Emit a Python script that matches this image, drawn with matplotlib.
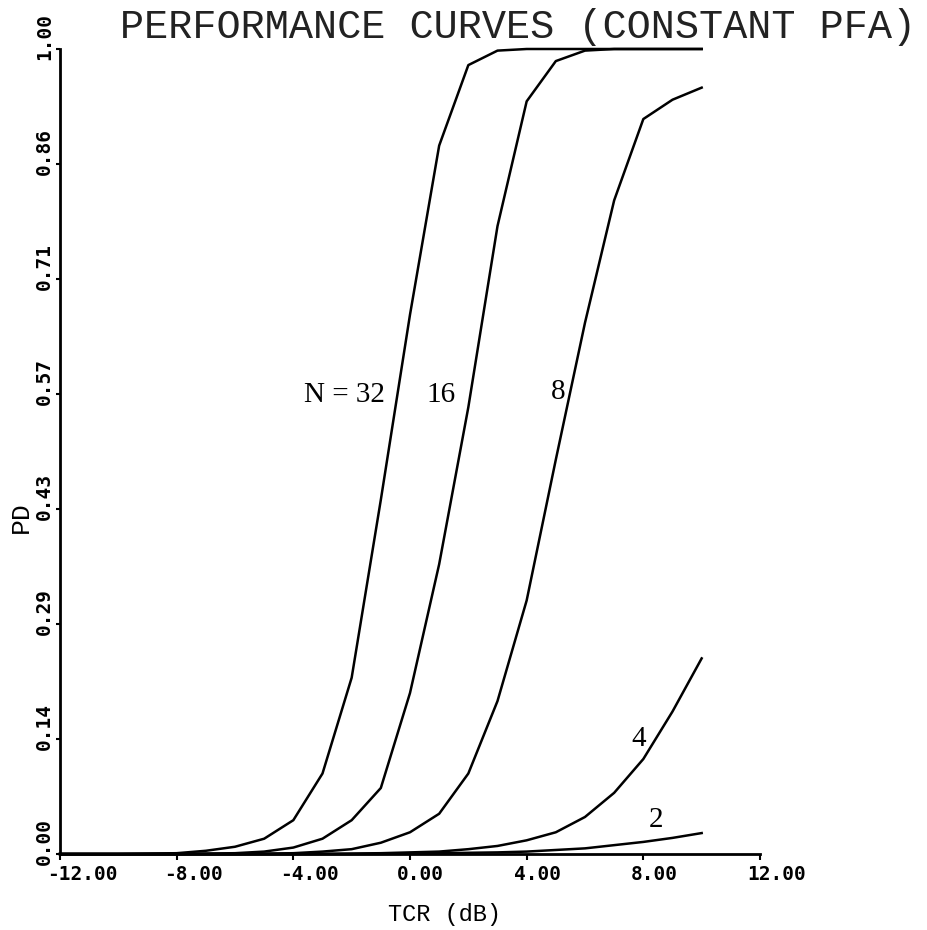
import matplotlib.pyplot as plt
from matplotlib.transforms import ScaledTranslation

# --- data (PD vs TCR, constant PFA) ---
tcr_db = [-12, -11, -10, -9, -8, -7, -6, -5, -4, -3, -2, -1,
          0, 1, 2, 3, 4, 5, 6, 7, 8, 9, 10]

pd_n32 = [0, 0, 0, 0.0005, 0.001, 0.004, 0.009, 0.019, 0.042, 0.10, 0.219, 0.44,
          0.67, 0.88, 0.98, 0.998, 1, 1, 1, 1, 1, 1, 1]
pd_n16 = [0, 0, 0, 0, 0, 0.0005, 0.001, 0.003, 0.008, 0.019, 0.042, 0.082,
          0.20, 0.36, 0.555, 0.78, 0.935, 0.985, 0.998, 1, 1, 1, 1]
pd_n8 = [0, 0, 0, 0, 0, 0, 0, 0.0005, 0.001, 0.003, 0.006, 0.014,
         0.027, 0.05, 0.10, 0.19, 0.315, 0.49, 0.66, 0.812, 0.913, 0.937, 0.952]
pd_n4 = [0, 0, 0, 0, 0, 0, 0, 0, 0, 0.0003, 0.0006, 0.001,
         0.002, 0.003, 0.006, 0.010, 0.017, 0.027, 0.046, 0.076, 0.118, 0.177, 0.243]
pd_n2 = [0, 0, 0, 0, 0, 0, 0, 0, 0, 0, 0, 0.0002,
         0.0005, 0.001, 0.0015, 0.002, 0.003, 0.005, 0.007, 0.011, 0.015, 0.020, 0.026]

curves = [pd_n32, pd_n16, pd_n8, pd_n4, pd_n2]
curve_labels = ["N = 32", "16", "8", "4", "2"]

x_ticks = [-12, -8, -4, 0, 4, 8, 12]
x_ticklabels = ["-12.00", "-8.00", "-4.00", "0.00", "4.00", "8.00", "12.00"]
y_ticks = [0, 1/7, 2/7, 3/7, 4/7, 5/7, 6/7, 1]
y_ticklabels = ["0.00", "0.14", "0.29", "0.43", "0.57", "0.71", "0.86", "1.00"]

fig = plt.figure(figsize=(9.28, 9.30), dpi=100)
ax = fig.add_axes([60/928, 76/930, 700/928, 805/930])

for pd in curves:
    ax.plot(tcr_db, pd, color="black", linewidth=1.8, clip_on=False)

ax.set_xlim(-12, 12)
ax.set_ylim(0, 1)

# --- axes look: only left/bottom, short outward ticks ---
for side in ["top", "right"]:
    ax.spines[side].set_visible(False)
for side in ["left", "bottom"]:
    ax.spines[side].set_linewidth(2.0)
ax.tick_params(axis="x", direction="out", length=4, width=1.5, pad=4)
ax.tick_params(axis="y", direction="out", length=3, width=1.5, pad=1.5)

tick_font = dict(family="DejaVu Sans Mono", weight="bold", size=14)
ax.set_xticks(x_ticks)
ax.set_xticklabels(x_ticklabels, **tick_font)
ax.set_yticks(y_ticks)
ax.set_yticklabels(y_ticklabels, **tick_font)

# labels start a little before their tick, like the old plotter
for lab in ax.get_xticklabels():
    lab.set_ha("left")
    lab.set_transform(lab.get_transform() + ScaledTranslation(-13/100, 0, fig.dpi_scale_trans))
for lab in ax.get_yticklabels():
    lab.set_rotation(90)
    lab.set_va("bottom")
    lab.set_transform(lab.get_transform() + ScaledTranslation(0, -11/100, fig.dpi_scale_trans))

# --- curve labels ---
lab_font = dict(family="Liberation Serif", size=21, ha="center", va="center")
ax.text(-2.26, 0.570, curve_labels[0], **lab_font)
ax.text(1.06, 0.570, curve_labels[1], **lab_font)
ax.text(5.09, 0.574, curve_labels[2], **lab_font)
ax.text(7.83, 0.143, curve_labels[3], **lab_font)
ax.text(8.44, 0.042, curve_labels[4], **lab_font)

# --- axis titles ---
ax.text((445-60)/700, -60/805, "TCR (dB)", transform=ax.transAxes,
        family="Liberation Mono", size=17, ha="center", va="center")
ax.text((21-60)/700, (854-517)/805, "PD", transform=ax.transAxes,
        family="Liberation Mono", size=19, rotation=90, ha="center", va="center")

fig.text(518/928, 1 - 27/930, "PERFORMANCE CURVES (CONSTANT PFA)",
         family="Liberation Mono", size=29, ha="center", va="center", color="#222222")

plt.savefig("out.png", dpi=100)
